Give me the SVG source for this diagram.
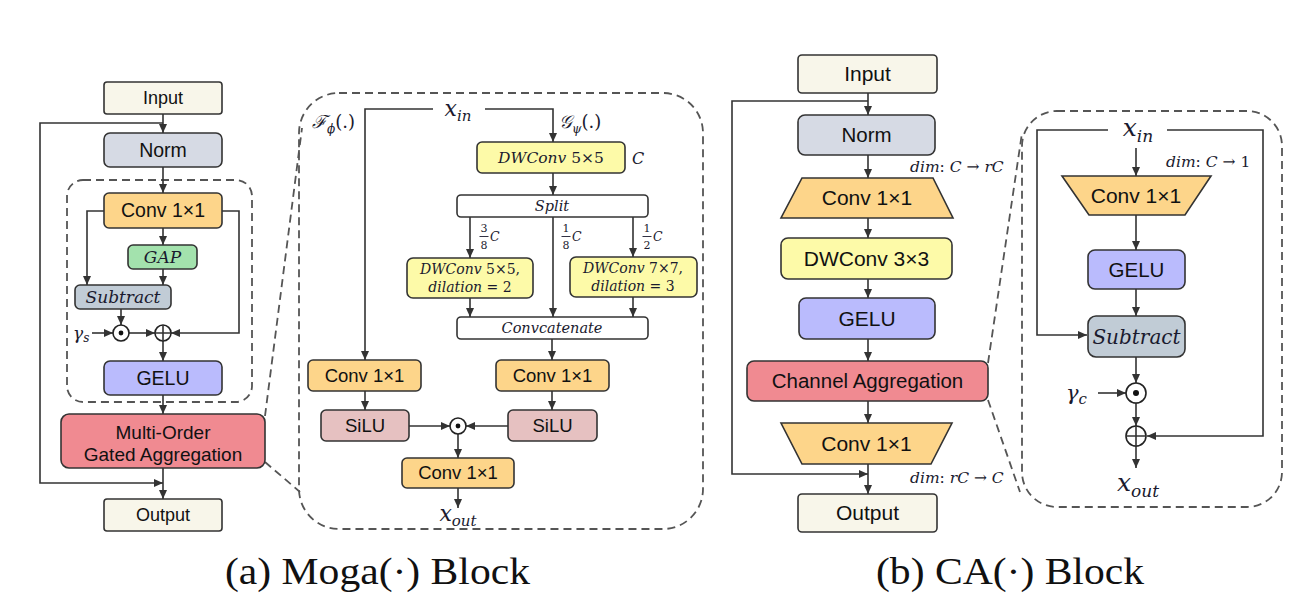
<svg xmlns="http://www.w3.org/2000/svg" width="1297" height="593" viewBox="0 0 1297 593">
<defs>
<marker id="ah" markerUnits="userSpaceOnUse" markerWidth="9" markerHeight="8" refX="9" refY="4" orient="auto">
<path d="M0,0 L9,4 L0,8 z" fill="#333"/>
</marker>
<style>
.box{stroke:#333;stroke-width:1.6}
.t{font-family:"Liberation Sans",Arial,sans-serif;fill:#111;text-anchor:middle}
.m{font-family:"DejaVu Serif",serif;font-style:italic;fill:#1a1a2e}
.u{font-style:normal}
.ln{fill:none;stroke:#333;stroke-width:1.6}
.arr{marker-end:url(#ah)}
.dash{fill:none;stroke:#555;stroke-width:1.8;stroke-dasharray:8 5}
.op{fill:#fff;stroke:#222;stroke-width:1.6}
.cap{font-family:"Liberation Serif","Times New Roman",serif;font-size:38px;fill:#111}
.cream{fill:#f8f6ea}.norm{fill:#d6dae4}.conv{fill:#fdd58a}.gelu{fill:#babbfd}
.agg{fill:#f08a91}.yel{fill:#fdfaa8}.sub{fill:#c1ccd6}.silu{fill:#e6c1c1}
</style>
</defs>
<rect width="1297" height="593" fill="#fff"/>

<!-- panels -->
<g id="moga-region">
<rect x="67" y="180" width="185" height="222" rx="16" fill="#dfeffc" class="dash"/>
</g>
<g id="moga-detail-panel">
<rect x="299" y="93" width="404" height="436" rx="40" fill="#f1f1f1" class="dash"/>
</g>
<g id="ca-detail-panel">
<rect x="1022" y="111" width="260" height="396" rx="35" fill="#f1f1f1" class="dash"/>
</g>

<!-- connectors -->
<g id="connectors">
<path class="dash" d="M265,416 L302,128"/>
<path class="dash" d="M265,462 L300,492"/>
<path class="dash" d="M988,363 L1022,133"/>
<path class="dash" d="M988,400 L1020,492"/>

<!-- block a -->
<path class="ln arr" d="M163,114 V133"/>
<path class="ln arr" d="M163,123 H40 V483 H163"/>
<path class="ln arr" d="M163,167 V193"/>
<path class="ln arr" d="M163,228 V245"/>
<path class="ln arr" d="M104,211 H87 V285"/>
<path class="ln arr" d="M163,269 V285"/>
<path class="ln arr" d="M121,309 V325"/>
<path class="ln arr" d="M92,333 H113"/>
<path class="ln arr" d="M129,333 H155"/>
<path class="ln arr" d="M222,211 H239 V333 H171"/>
<path class="ln arr" d="M163,341 V361"/>
<path class="ln arr" d="M163,395 V414"/>
<path class="ln arr" d="M163,468 V499"/>

<!-- moga detail -->
<path class="ln arr" d="M433,109 H365 V360"/>
<path class="ln arr" d="M485,109 H553 V142"/>
<path class="ln arr" d="M553,173 V195"/>
<path class="ln arr" d="M470,217 V258"/>
<path class="ln arr" d="M553,217 V317"/>
<path class="ln arr" d="M633,217 V257"/>
<path class="ln arr" d="M470,298 V317"/>
<path class="ln arr" d="M633,297 V317"/>
<path class="ln arr" d="M552,339 V360"/>
<path class="ln arr" d="M365,391 V410"/>
<path class="ln arr" d="M552,391 V410"/>
<path class="ln arr" d="M409,426 H450"/>
<path class="ln arr" d="M508,426 H466"/>
<path class="ln arr" d="M458,434 V458"/>
<path class="ln arr" d="M458,488 V508"/>

<!-- block b -->
<path class="ln arr" d="M868,93 V115"/>
<path class="ln arr" d="M868,101 H732 V474 H868"/>
<path class="ln arr" d="M868,155 V178"/>
<path class="ln arr" d="M868,218 V238"/>
<path class="ln arr" d="M868,279 V298"/>
<path class="ln arr" d="M868,339 V361"/>
<path class="ln arr" d="M868,401 V423"/>
<path class="ln arr" d="M868,464 V494"/>

<!-- ca detail -->
<path class="ln arr" d="M1108,130 H1037 V335 H1087"/>
<path class="ln arr" d="M1167,130 H1263 V436 H1147"/>
<path class="ln arr" d="M1136,148 V176"/>
<path class="ln arr" d="M1136,215 V250"/>
<path class="ln arr" d="M1136,289 V316"/>
<path class="ln arr" d="M1136,357 V383"/>
<path class="ln arr" d="M1098,393 H1126"/>
<path class="ln arr" d="M1136,403 V426"/>
<path class="ln arr" d="M1136,446 V468"/>
</g>

<!-- ===== block a nodes ===== -->
<g id="a-input"><rect class="box cream" x="104" y="82" width="118" height="32" rx="3"/><text class="t" x="163" y="98" dy=".35em" font-size="18">Input</text></g>
<g id="a-norm"><rect class="box norm" x="104" y="133" width="118" height="34" rx="6"/><text class="t" x="163" y="150" dy=".35em" font-size="19.5">Norm</text></g>
<g id="a-conv"><rect class="box conv" x="104" y="193" width="118" height="35" rx="5"/><text class="t" x="163" y="210.5" dy=".35em" font-size="19.5">Conv 1×1</text></g>
<g id="a-gap"><rect class="box" fill="#a3e2ad" x="128" y="245" width="69" height="24" rx="5"/><text class="m" x="162.5" y="257" dy=".35em" font-size="17" text-anchor="middle">GAP</text></g>
<g id="a-subtract"><rect class="box sub" x="75" y="285" width="96" height="24" rx="5"/><text class="m" x="123" y="297" dy=".35em" font-size="17" text-anchor="middle">Subtract</text></g>
<g id="a-gamma"><text class="m" x="73" y="339" font-size="17">γ<tspan font-size="12" dy="3">s</tspan></text></g>
<g id="a-mul"><circle class="op" cx="121" cy="333" r="8"/><circle cx="121" cy="333" r="2.4" fill="#111"/></g>
<g id="a-add"><circle class="op" cx="163" cy="333" r="8"/><path class="ln" d="M155,333 H171 M163,325 V341" stroke="#222"/></g>
<g id="a-gelu"><rect class="box gelu" x="104" y="361" width="118" height="34" rx="6"/><text class="t" x="163" y="378" dy=".35em" font-size="19.5">GELU</text></g>
<g id="a-moga"><rect class="box agg" x="61" y="414" width="204" height="54" rx="8"/><text class="t" x="163" y="432" dy=".35em" font-size="19">Multi-Order</text><text class="t" x="163" y="454" dy=".35em" font-size="19">Gated Aggregation</text></g>
<g id="a-output"><rect class="box cream" x="104" y="499" width="118" height="32" rx="3"/><text class="t" x="163" y="515" dy=".35em" font-size="18">Output</text></g>

<!-- ===== moga detail nodes ===== -->
<g id="m-xin"><text class="m" x="458" y="116" font-size="22" text-anchor="middle">x<tspan font-size="15" dy="5">in</tspan></text></g>
<g id="m-f"><text class="m" x="312" y="128" font-size="18">ℱ<tspan font-size="12" dy="5">ϕ</tspan><tspan dy="-5" class="u">(.)</tspan></text></g>
<g id="m-g"><text class="m" x="559" y="128" font-size="18">𝒢<tspan font-size="12" dy="5">ψ</tspan><tspan dy="-5" class="u">(.)</tspan></text></g>
<g id="m-dw55"><rect class="box yel" x="477" y="142" width="148" height="31" rx="5"/><text class="m" x="551" y="157.5" dy=".35em" font-size="15.5" text-anchor="middle">DWConv<tspan class="u"> 5×5</tspan></text></g>
<g id="m-c"><text class="m" x="632" y="164" font-size="16">C</text></g>
<g id="m-split"><rect class="box" fill="#fff" x="457" y="195" width="191" height="22" rx="4"/><text class="m" x="552" y="206" dy=".35em" font-size="14.5" text-anchor="middle">Split</text></g>
<g id="m-frac1" font-family="DejaVu Serif,serif" fill="#1a1a2e">
<text x="484" y="232" font-size="11" text-anchor="middle">3</text><path d="M479.5,236.5 H488.5" stroke="#1a1a2e" stroke-width="0.9"/><text x="484" y="249" font-size="11" text-anchor="middle">8</text><text x="490" y="241" font-size="12.5" font-style="italic">C</text>
</g>
<g id="m-frac2" font-family="DejaVu Serif,serif" fill="#1a1a2e">
<text x="566" y="232" font-size="11" text-anchor="middle">1</text><path d="M561.5,236.5 H570.5" stroke="#1a1a2e" stroke-width="0.9"/><text x="566" y="249" font-size="11" text-anchor="middle">8</text><text x="572" y="241" font-size="12.5" font-style="italic">C</text>
</g>
<g id="m-frac3" font-family="DejaVu Serif,serif" fill="#1a1a2e">
<text x="647" y="232" font-size="11" text-anchor="middle">1</text><path d="M642.5,236.5 H651.5" stroke="#1a1a2e" stroke-width="0.9"/><text x="647" y="249" font-size="11" text-anchor="middle">2</text><text x="653" y="241" font-size="12.5" font-style="italic">C</text>
</g>
<g id="m-dwl"><rect class="box yel" x="407" y="258" width="126" height="40" rx="6"/><text class="m" x="470" y="274" font-size="14" text-anchor="middle">DWConv<tspan class="u"> 5×5,</tspan></text><text class="m" x="470" y="292" font-size="14" text-anchor="middle">dilation<tspan class="u"> = 2</tspan></text></g>
<g id="m-dwr"><rect class="box yel" x="570" y="257" width="127" height="40" rx="6"/><text class="m" x="633" y="273" font-size="14" text-anchor="middle">DWConv<tspan class="u"> 7×7,</tspan></text><text class="m" x="633" y="291" font-size="14" text-anchor="middle">dilation<tspan class="u"> = 3</tspan></text></g>
<g id="m-concat"><rect class="box" fill="#fff" x="457" y="317" width="191" height="22" rx="4"/><text class="m" x="552" y="328" dy=".35em" font-size="14.5" text-anchor="middle">Convcatenate</text></g>
<g id="m-convl"><rect class="box conv" x="308" y="360" width="113" height="31" rx="5"/><text class="t" x="364.5" y="375.5" dy=".35em" font-size="18.5">Conv 1×1</text></g>
<g id="m-convr"><rect class="box conv" x="496" y="360" width="113" height="31" rx="5"/><text class="t" x="552.5" y="375.5" dy=".35em" font-size="18.5">Conv 1×1</text></g>
<g id="m-silul"><rect class="box silu" x="321" y="410" width="88" height="31" rx="5"/><text class="t" x="365" y="425.5" dy=".35em" font-size="18.5">SiLU</text></g>
<g id="m-silur"><rect class="box silu" x="508" y="410" width="89" height="31" rx="5"/><text class="t" x="552.5" y="425.5" dy=".35em" font-size="18.5">SiLU</text></g>
<g id="m-mul"><circle class="op" cx="458" cy="426" r="8"/><circle cx="458" cy="426" r="2.4" fill="#111"/></g>
<g id="m-convb"><rect class="box conv" x="402" y="458" width="112" height="30" rx="5"/><text class="t" x="458" y="473" dy=".35em" font-size="18.5">Conv 1×1</text></g>
<g id="m-xout"><text class="m" x="458" y="521" font-size="22" text-anchor="middle">x<tspan font-size="15" dy="5">out</tspan></text></g>

<!-- ===== block b nodes ===== -->
<g id="b-input"><rect class="box cream" x="798" y="55" width="139" height="38" rx="4"/><text class="t" x="867.5" y="74" dy=".35em" font-size="21">Input</text></g>
<g id="b-norm"><rect class="box norm" x="798" y="115" width="137" height="40" rx="7"/><text class="t" x="866.5" y="135" dy=".35em" font-size="20.5">Norm</text></g>
<g id="b-dim1"><text class="m" x="910" y="172" font-size="15.5">dim<tspan class="u">: </tspan>C<tspan class="u"> → </tspan>rC</text></g>
<g id="b-conv1"><polygon class="box conv" points="802,178 933,178 953,218 781,218"/><text class="t" x="867" y="198" dy=".35em" font-size="21">Conv 1×1</text></g>
<g id="b-dw"><rect class="box yel" x="781" y="238" width="171" height="41" rx="7"/><text class="t" x="866.5" y="258.5" dy=".35em" font-size="21">DWConv 3×3</text></g>
<g id="b-gelu"><rect class="box gelu" x="799" y="298" width="136" height="41" rx="7"/><text class="t" x="867" y="318.5" dy=".35em" font-size="21">GELU</text></g>
<g id="b-ca"><rect class="box agg" x="747" y="361" width="241" height="40" rx="7"/><text class="t" x="867.5" y="381" dy=".35em" font-size="20.5">Channel Aggregation</text></g>
<g id="b-conv2"><polygon class="box conv" points="781,423 952,423 931,464 802,464"/><text class="t" x="866.5" y="443.5" dy=".35em" font-size="21">Conv 1×1</text></g>
<g id="b-dim2"><text class="m" x="910" y="483" font-size="15.5">dim<tspan class="u">: </tspan>rC<tspan class="u"> → </tspan>C</text></g>
<g id="b-output"><rect class="box cream" x="798" y="494" width="139" height="38" rx="4"/><text class="t" x="867.5" y="513" dy=".35em" font-size="21">Output</text></g>

<!-- ===== ca detail nodes ===== -->
<g id="c-xin"><text class="m" x="1138" y="136" font-size="25" text-anchor="middle">x<tspan font-size="17" dy="6">in</tspan></text></g>
<g id="c-dim"><text class="m" x="1166" y="167" font-size="15.5">dim<tspan class="u">: </tspan>C<tspan class="u"> → 1</tspan></text></g>
<g id="c-conv"><polygon class="box conv" points="1062,176 1211,176 1185,215 1089,215"/><text class="t" x="1136" y="196" dy=".35em" font-size="21">Conv 1×1</text></g>
<g id="c-gelu"><rect class="box gelu" x="1088" y="250" width="97" height="39" rx="7"/><text class="t" x="1136.5" y="269.5" dy=".35em" font-size="20.5">GELU</text></g>
<g id="c-subtract"><rect class="box sub" x="1088" y="316" width="97" height="41" rx="8"/><text class="m" x="1136.5" y="336.5" dy=".35em" font-size="20" text-anchor="middle">Subtract</text></g>
<g id="c-gamma"><text class="m" x="1066" y="400" font-size="21">γ<tspan font-size="15" dy="4">c</tspan></text></g>
<g id="c-mul"><circle class="op" cx="1136" cy="393" r="10"/><circle cx="1136" cy="393" r="3" fill="#111"/></g>
<g id="c-add"><circle class="op" cx="1136" cy="436" r="10"/><path class="ln" d="M1126,436 H1146 M1136,426 V446" stroke="#222"/></g>
<g id="c-xout"><text class="m" x="1138" y="491" font-size="25" text-anchor="middle">x<tspan font-size="17" dy="6">out</tspan></text></g>

<!-- captions -->
<g id="captions">
<text class="cap" x="225" y="584" textLength="305" lengthAdjust="spacingAndGlyphs">(a) Moga(·) Block</text>
<text class="cap" x="876" y="584" textLength="268" lengthAdjust="spacingAndGlyphs">(b) CA(·) Block</text>
</g>
</svg>
